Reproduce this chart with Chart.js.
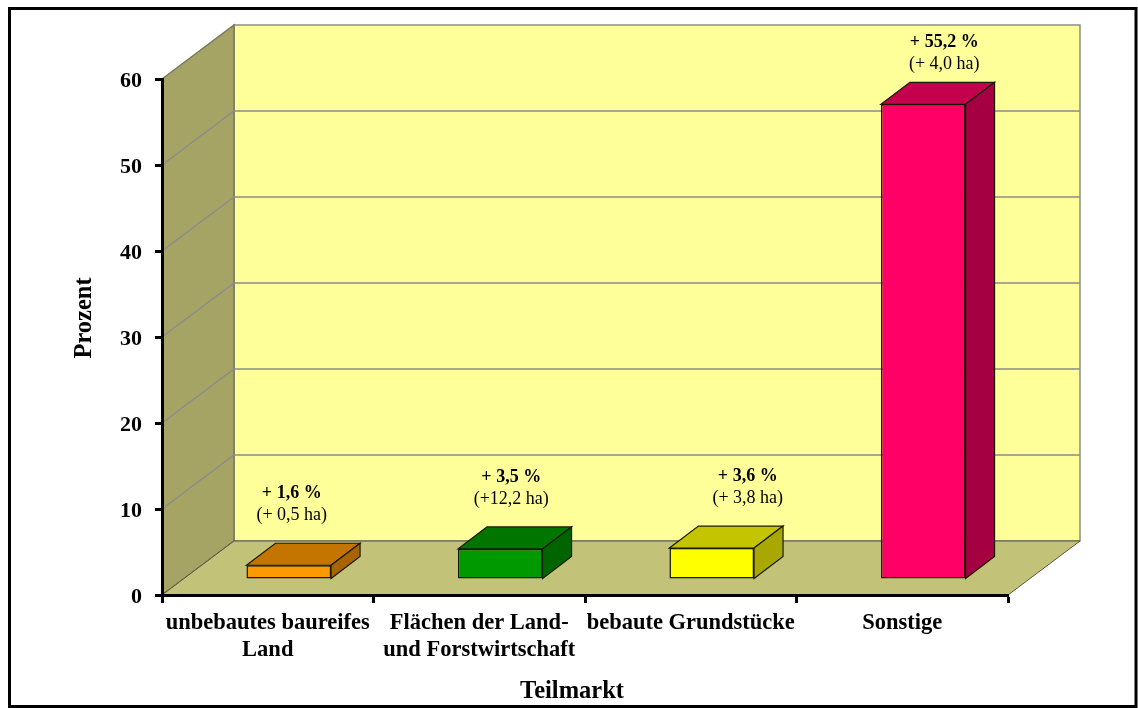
<!DOCTYPE html>
<html lang="de">
<head>
<meta charset="utf-8">
<title>Teilmarkt</title>
<style>
  html, body { margin: 0; padding: 0; background: #fff; }
  canvas { display: block; }
</style>
<script src="https://cdn.jsdelivr.net/npm/chart.js@4.4.8/dist/chart.umd.min.js"></script>
</head>
<body>
<canvas id="chart" width="1138" height="708"></canvas>
<script>
const categories = [
  ["unbebautes baureifes", "Land"],
  ["Flächen der Land-", "und Forstwirtschaft"],
  "bebaute Grundstücke",
  "Sonstige"
];
const percentValues = [1.6, 3.5, 3.6, 55.2];
const percentLabels = ["+ 1,6 %", "+ 3,5 %", "+ 3,6 %", "+ 55,2 %"];
const areaLabels = ["(+ 0,5 ha)", "(+12,2 ha)", "(+ 3,8 ha)", "(+ 4,0 ha)"];
const yTicks = [0, 10, 20, 30, 40, 50, 60];

// Farben der Quader
const frontColors = ["#ff9900", "#009900", "#ffff00", "#ff0066"];
const topColors = ["#c47500", "#007500", "#c4c400", "#c4004e"];
const sideColors = ["#a86400", "#006400", "#a8a800", "#a50042"];

// Versatz der Beschriftung gegenüber der Vorderseite
const labelShiftX = [3, 11, 36, 21];
const labelShiftY = [0, 0, 0, 10];

const SERIF = "'Liberation Serif', 'Times New Roman', serif";
const WALL_DX = 72;
const WALL_DY = -54;
const BAR_DX = 21;
const BAR_DY = -16;
const DEPTH_DX = 29;
const DEPTH_DY = -22;
const BAR_EDGE = "#1a1a00";

function poly(ctx, pts, fill, stroke, lineWidth) {
  ctx.beginPath();
  pts.forEach((p, i) => (i ? ctx.lineTo(p[0], p[1]) : ctx.moveTo(p[0], p[1])));
  ctx.closePath();
  if (fill) {
    ctx.fillStyle = fill;
    ctx.fill();
  }
  if (stroke) {
    ctx.strokeStyle = stroke;
    ctx.lineWidth = lineWidth || 1;
    ctx.stroke();
  }
}

const walls = {
  id: "walls",
  beforeDraw(chart) {
    const { ctx, chartArea: a, scales } = chart;
    const l = a.left, r = a.right, t = a.top, b = a.bottom;
    ctx.save();
    poly(ctx, [[l + WALL_DX, t + WALL_DY], [r + WALL_DX, t + WALL_DY], [r + WALL_DX, b + WALL_DY], [l + WALL_DX, b + WALL_DY]], "#ffff99", "#8c8c8c", 1.5);
    poly(ctx, [[l, t], [l + WALL_DX, t + WALL_DY], [l + WALL_DX, b + WALL_DY], [l, b]], "#a5a465", "#77775a", 1.5);
    poly(ctx, [[l, b], [l + WALL_DX, b + WALL_DY], [r + WALL_DX, b + WALL_DY], [r, b]], "#c2c278", "#55553a", 1);

    ctx.strokeStyle = "#8c8c8c";
    ctx.lineWidth = 1.5;
    yTicks.slice(1, -1).forEach((v) => {
      const y = scales.y.getPixelForValue(v);
      ctx.beginPath();
      ctx.moveTo(l, y);
      ctx.lineTo(l + WALL_DX, y + WALL_DY);
      ctx.lineTo(r + WALL_DX, y + WALL_DY);
      ctx.stroke();
    });
    ctx.restore();

    // Zahlen der y-Achse sitzen im Original etwas tiefer
    scales.y.getLabelItems().forEach((item) => {
      if (!item.shifted) {
        item.textOffset += 2;
        item.shifted = true;
      }
    });
  },
  beforeDatasetsDraw(chart) {
    const { ctx } = chart;
    ctx.save();
    ctx.translate(BAR_DX, BAR_DY);
    chart.getDatasetMeta(0).data.forEach((bar, i) => {
      const l = bar.x - bar.width / 2, r = bar.x + bar.width / 2;
      poly(ctx, [[l, bar.y], [l + DEPTH_DX, bar.y + DEPTH_DY], [r + DEPTH_DX, bar.y + DEPTH_DY], [r, bar.y]], topColors[i], BAR_EDGE, 1.2);
      poly(ctx, [[r, bar.y], [r + DEPTH_DX, bar.y + DEPTH_DY], [r + DEPTH_DX, bar.base + DEPTH_DY], [r, bar.base]], sideColors[i], BAR_EDGE, 1.2);
    });
  },
  afterDatasetsDraw(chart) {
    chart.ctx.restore();
  },
  afterDraw(chart) {
    const { ctx } = chart;
    ctx.save();
    ctx.fillStyle = "#000";
    ctx.textAlign = "center";
    ctx.textBaseline = "middle";

    chart.getDatasetMeta(0).data.forEach((bar, i) => {
      const x = bar.x + BAR_DX + labelShiftX[i];
      const y = bar.y + BAR_DY + DEPTH_DY + labelShiftY[i];
      ctx.font = "bold 18px " + SERIF;
      ctx.fillText(percentLabels[i], x, y - 50);
      ctx.font = "18px " + SERIF;
      ctx.fillText(areaLabels[i], x, y - 28);
    });

    ctx.font = "bold 24.5px " + SERIF;
    ctx.fillText("Teilmarkt", 572, 692);
    ctx.translate(85, 318);
    ctx.rotate(-Math.PI / 2);
    ctx.fillText("Prozent", 0, 0);
    ctx.restore();

    // Rahmen um das Diagramm
    ctx.save();
    ctx.strokeStyle = "#000";
    ctx.lineWidth = 3;
    ctx.strokeRect(9.5, 8.5, 1126.5, 698);
    ctx.restore();
  }
};

new Chart(document.getElementById("chart"), {
  type: "bar",
  data: {
    labels: categories,
    datasets: [
      {
        data: percentValues,
        backgroundColor: frontColors,
        borderColor: BAR_EDGE,
        borderWidth: 1.5,
        borderSkipped: false,
        barPercentage: 0.4,
        categoryPercentage: 1,
        clip: false
      }
    ]
  },
  options: {
    responsive: false,
    animation: false,
    devicePixelRatio: 1,
    layout: { padding: { top: 79, right: 130, bottom: 0, left: 0 } },
    plugins: {
      legend: { display: false },
      tooltip: { enabled: false }
    },
    scales: {
      x: {
        afterFit(scale) {
          scale.height = 113;
        },
        grid: {
          offset: true,
          drawOnChartArea: false,
          tickLength: 8,
          tickWidth: 3,
          tickColor: "#000"
        },
        border: { color: "#000", width: 3 },
        ticks: {
          color: "#000",
          padding: 7,
          autoSkip: false,
          maxRotation: 0,
          font: { family: SERIF, size: 22.5, weight: "bold", lineHeight: 1.18 }
        }
      },
      y: {
        min: 0,
        max: 60,
        afterFit(scale) {
          scale.width = 162;
        },
        afterBuildTicks(scale) {
          scale.ticks = yTicks.map((value) => ({ value }));
        },
        grid: {
          drawOnChartArea: false,
          tickLength: 7,
          tickWidth: 3,
          tickColor: "#000"
        },
        border: { color: "#000", width: 3 },
        ticks: {
          color: "#000",
          padding: 13,
          font: { family: SERIF, size: 22, weight: "bold" }
        }
      }
    }
  },
  plugins: [walls]
});
</script>
</body>
</html>
